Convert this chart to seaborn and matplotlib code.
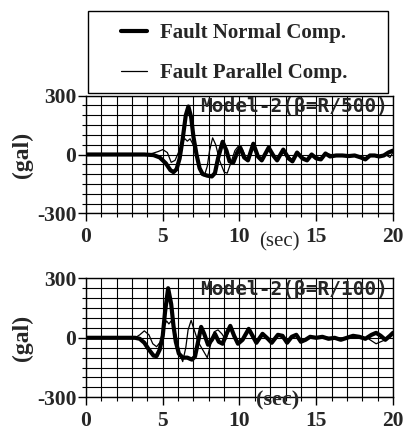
import matplotlib
matplotlib.use("Agg")
import numpy as np
import pandas as pd
import seaborn as sns
import matplotlib.pyplot as plt
from matplotlib.ticker import MultipleLocator
from matplotlib.patches import Rectangle

# ---------------- data ----------------
series_labels = ["Fault Normal Comp.", "Fault Parallel Comp."]
panel_titles = ["Model-2(\u03b2=R/500)", "Model-2(\u03b2=R/100)"]
x_tick_labels = ["0", "5", "10", "15", "20"]
y_tick_labels = ["-300", "0", "300"]
x_label = "(sec)"
y_label = "(gal)"

# Panel 1 (beta = R/500) - fault normal (thick)
t_n1 = [0, 3.8, 4.4, 4.8, 5.2, 5.5, 5.7, 5.9, 6.1, 6.3, 6.5, 6.67, 6.85, 7.0, 7.2, 7.4, 7.6, 7.9,
        8.2, 8.4, 8.6, 8.9, 9.15, 9.35, 9.6, 9.85, 10.05, 10.3, 10.55, 10.9, 11.2, 11.45, 11.9, 12.2,
        12.45, 12.85, 13.2, 13.45, 13.75, 14.1, 14.4, 14.7, 15.0, 15.3, 15.6, 15.9, 16.3, 16.7, 17.1,
        17.5, 17.9, 18.2, 18.5, 18.8, 19.1, 19.4, 19.7, 20.0]
v_n1 = [0, 0, -3, -15, -45, -80, -90, -75, -20, 80, 200, 245, 190, 90, 0, -70, -100, -108,
        -112, -95, -20, 65, 20, -35, -40, 10, 35, -15, -30, 55, -10, -30, 35, -5,
        -30, 25, -20, -35, 10, -20, -30, 0, -20, -25, 5, -10, -5, -5, -8,
        -5, -15, -25, -5, -5, -10, -5, 10, 20]

# Panel 1 - fault parallel (thin)
t_p1 = [0, 3.8, 4.3, 4.7, 5.0, 5.3, 5.55, 5.8, 6.05, 6.3, 6.45, 6.6, 6.78, 6.95, 7.2, 7.45, 7.7,
        7.9, 8.05, 8.25, 8.45, 8.7, 9.0, 9.2, 9.45, 9.7, 9.95, 10.2, 10.5, 10.7, 10.9, 11.2, 11.45,
        11.9, 12.45, 12.85, 13.45, 13.75, 14.4, 14.7, 15.3, 15.6, 16.3, 17.1, 17.9, 18.2, 18.5,
        19.1, 19.5, 19.8, 19.95, 20.0]
v_p1 = [0, 0, 5, 15, 25, 10, -40, -30, 15, 70, 80, 68, 80, 55, 0, -70, -110,
        -60, 20, 85, 50, -30, -90, -95, -40, 20, 45, 25, -30, 0, 55, -15, -25,
        30, -25, 20, -30, 5, -25, 0, -20, 5, -5, -8, -10, -20, -5,
        -8, 0, -15, 5, 15]

# Panel 2 (beta = R/100) - fault normal (thick)
t_n2 = [0, 3.2, 3.5, 3.8, 4.1, 4.4, 4.6, 4.8, 5.0, 5.15, 5.35, 5.55, 5.7, 5.85, 6.05, 6.3, 6.6,
        6.9, 7.1, 7.3, 7.5, 7.7, 7.95, 8.2, 8.4, 8.65, 8.9, 9.15, 9.4, 9.65, 9.9, 10.2, 10.6, 10.85,
        11.1, 11.5, 11.85, 12.1, 12.5, 12.8, 13.1, 13.4, 13.7, 14.0, 14.3, 14.6, 15.0, 15.4, 15.8,
        16.2, 16.6, 17.0, 17.4, 17.8, 18.2, 18.6, 18.9, 19.2, 19.5, 19.8, 20.0]
v_n2 = [0, 0, -5, -25, -60, -90, -92, -60, 10, 130, 250, 170, 60, -20, -80, -100, -100,
        -110, -95, -20, 55, 20, -35, -10, 20, -20, -30, 20, 60, 10, -30, -10, 45, 10,
        -25, 20, -5, -25, 15, 10, -25, 5, 15, -20, -10, 5, 0, 5, -5,
        0, -10, 0, 10, 5, -5, 15, 25, 10, -10, 10, 25]

# Panel 2 - fault parallel (thin)
t_p2 = [0, 3.2, 3.5, 3.8, 4.1, 4.35, 4.6, 4.85, 5.05, 5.25, 5.4, 5.55, 5.7, 5.9, 6.1, 6.3, 6.5,
        6.65, 6.85, 7.05, 7.3, 7.6, 7.9, 8.1, 8.35, 8.6, 8.85, 9.1, 9.4, 9.65, 9.9, 10.2, 10.6,
        10.85, 11.1, 11.5, 12.1, 12.5, 13.1, 13.7, 14.0, 14.6, 15.4, 16.2, 17.0, 17.8, 18.3, 18.6,
        18.9, 19.2, 19.5, 19.8, 20.0]
v_p2 = [0, 0, 15, 35, 15, -30, -45, -20, 50, 85, 70, 85, 60, 0, -80, -120, -50,
        40, 88, 40, -20, -60, -100, -40, 30, 40, 20, -10, 55, 10, -25, -5, 40,
        5, -20, 20, -20, 15, -20, 12, -15, 5, 5, 0, 0, 5, 0, -15,
        -30, -20, -10, 10, 20]

panels = [(t_n1, v_n1, t_p1, v_p1), (t_n2, v_n2, t_p2, v_p2)]

# ---------------- style ----------------
sns.set_theme(style="white")
plt.rcParams["font.family"] = ["Liberation Serif", "DejaVu Serif"]

W, H = 410, 434
fig = plt.figure(figsize=(W / 100, H / 100), dpi=100)

def fx(px):
    return px / W

def fy(py):
    return 1 - py / H

ax_specs = [
    (86, 393, 95.7, 213.3),
    (86, 393, 278.3, 397.3),
]
axes = []
for (l, r, t, b) in ax_specs:
    axes.append(fig.add_axes([fx(l), fy(b), fx(r) - fx(l), fy(t) - fy(b)]))

for i, ax in enumerate(axes):
    tn, vn, tp, vp = panels[i]
    df_n = pd.DataFrame({"t": tn, "v": vn})
    df_p = pd.DataFrame({"t": tp, "v": vp})
    sns.lineplot(data=df_n, x="t", y="v", ax=ax, color="black", linewidth=3.0,
                 estimator=None, sort=False, label=series_labels[0], zorder=3)
    sns.lineplot(data=df_p, x="t", y="v", ax=ax, color="black", linewidth=0.9,
                 estimator=None, sort=False, label=series_labels[1], zorder=4)
    ax.set_xlim(0, 20)
    ax.set_ylim(-300, 300)
    ax.set_xticks([0, 5, 10, 15, 20], labels=x_tick_labels, fontweight="bold", fontsize=15.5)
    ax.set_yticks([-300, 0, 300], labels=y_tick_labels, fontweight="bold", fontsize=15.5)
    ax.xaxis.set_minor_locator(MultipleLocator(1))
    ax.yaxis.set_minor_locator(MultipleLocator(50))
    ax.grid(which="both", color="black", linewidth=0.8)
    ax.set_axisbelow(True)
    ax.tick_params(which="major", direction="out", length=6, width=1, color="black",
                   pad=4, left=True, bottom=True)
    ax.tick_params(which="minor", direction="out", length=3, width=0.8, color="black",
                   left=True, bottom=True)
    ax.tick_params(axis="y", which="major", pad=1)
    for s in ax.spines.values():
        s.set_color("black")
        s.set_linewidth(1.0)
    ax.set_xlabel("")
    ax.set_ylabel(y_label, fontweight="bold", fontsize=17)
    ax.yaxis.set_label_coords(-0.172, 0.5)
    ax.text(0.371, 0.905, panel_titles[i], transform=ax.transAxes,
            family=["DejaVu Sans Mono", "DejaVu Sans"], fontweight="bold",
            fontsize=14, ha="left", va="center", zorder=5)
    leg = ax.get_legend()
    if leg is not None:
        leg.remove()

axes[0].text(0.629, -0.244, x_label, transform=axes[0].transAxes, fontsize=15,
             ha="center", va="center")
axes[1].text(0.625, -0.03, x_label, transform=axes[1].transAxes, fontsize=16,
             fontweight="bold", ha="center", va="center")

# legend box
handles, labels = axes[0].get_legend_handles_labels()
fig.add_artist(Rectangle((fx(88), fy(93)), fx(388) - fx(88), fy(11) - fy(93),
                         transform=fig.transFigure, fill=False, edgecolor="black",
                         linewidth=1.0))
fig.legend(handles, labels, loc="upper left", bbox_to_anchor=(fx(121), fy(23)),
           frameon=False, borderpad=0, borderaxespad=0, handlelength=1.25,
           handletextpad=0.6, labelspacing=0.95,
           prop={"weight": "bold", "size": 15, "family": "Liberation Serif"})

fig.savefig("out.png", dpi=100)
